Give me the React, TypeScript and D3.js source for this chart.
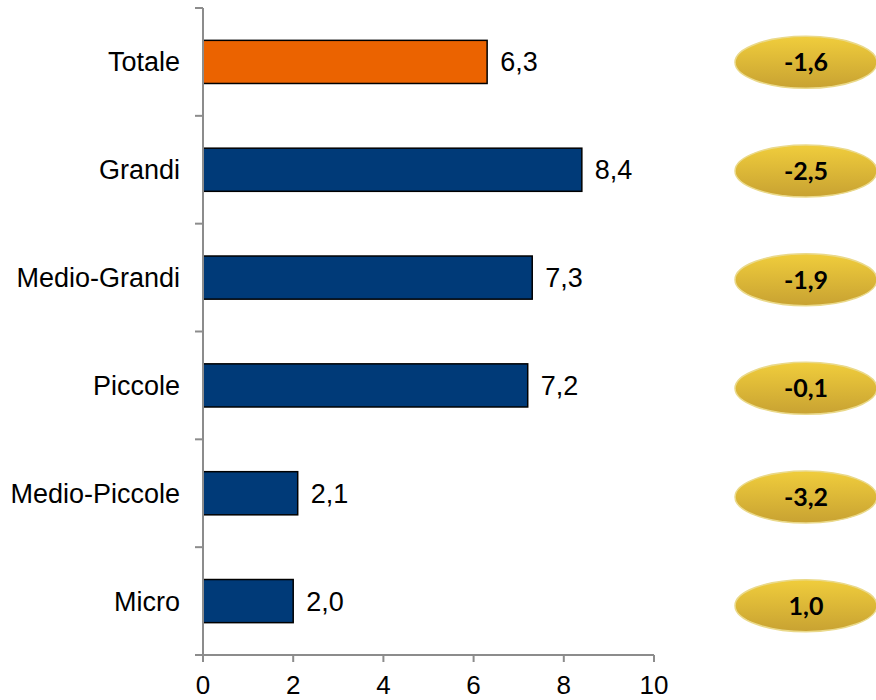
import React, { useEffect, useRef } from 'react';
import * as d3 from 'd3';

const categories = ['Totale', 'Grandi', 'Medio-Grandi', 'Piccole', 'Medio-Piccole', 'Micro'];
const values = [6.3, 8.4, 7.3, 7.2, 2.1, 2.0];
const changes = ['-1,6', '-2,5', '-1,9', '-0,1', '-3,2', '1,0'];
const xTicks = [0, 2, 4, 6, 8, 10];

const App: React.FC = () => {
  const svgRef = useRef<SVGSVGElement>(null);

  useEffect(() => {
    if (!svgRef.current) return;
    const width = 876;
    const height = 700;
    const svg = d3.select(svgRef.current).attr('width', width).attr('height', height);
    svg.selectAll('*').remove();

    const font = '"Liberation Sans", Arial, sans-serif';
    const axisColor = '#8c8c8c';
    const fs = 27;

    const x = d3.scaleLinear().domain([0, 10]).range([203, 654]);
    const y = d3.scaleBand().domain(categories).range([8, 655]).paddingInner(0.6).paddingOuter(0.3);
    const yBand = d3.scaleBand().domain(categories).range([8, 655]);
    const yBadge = d3.scaleBand().domain(categories).range([8, 660]);

    // gradient for the badges
    const defs = svg.append('defs');
    const grad = defs
      .append('linearGradient')
      .attr('id', 'gold')
      .attr('x1', 0)
      .attr('y1', 0)
      .attr('x2', 0)
      .attr('y2', 1);
    grad.append('stop').attr('offset', '0%').attr('stop-color', '#f0cd3c');
    grad.append('stop').attr('offset', '100%').attr('stop-color', '#c8a232');

    // bars
    svg
      .selectAll('.bar')
      .data(categories)
      .enter()
      .append('rect')
      .attr('class', 'bar')
      .attr('x', x(0))
      .attr('y', (d) => y(d) ?? 0)
      .attr('width', (d, i) => x(values[i]) - x(0))
      .attr('height', y.bandwidth())
      .attr('fill', (d, i) => (i === 0 ? '#eb6300' : '#003a78'))
      .attr('stroke', '#000')
      .attr('stroke-width', 1.5);

    // value labels
    svg
      .selectAll('.val')
      .data(categories)
      .enter()
      .append('text')
      .attr('x', (d, i) => x(values[i]) + 13)
      .attr('y', (d) => (y(d) ?? 0) + y.bandwidth() / 2)
      .attr('dy', '0.35em')
      .attr('font-family', font)
      .attr('font-size', fs)
      .attr('fill', '#000')
      .text((d, i) => values[i].toFixed(1).replace('.', ','));

    // y axis
    const yAxis = svg.append('g');
    yAxis
      .append('line')
      .attr('x1', x(0))
      .attr('x2', x(0))
      .attr('y1', 8)
      .attr('y2', 655)
      .attr('stroke', axisColor)
      .attr('stroke-width', 2);
    const bounds = categories.map((c) => yBand(c) ?? 0).concat([655]);
    yAxis
      .selectAll('.ytick')
      .data(bounds)
      .enter()
      .append('line')
      .attr('x1', x(0) - 8)
      .attr('x2', x(0))
      .attr('y1', (d) => d)
      .attr('y2', (d) => d)
      .attr('stroke', axisColor)
      .attr('stroke-width', 2);
    yAxis
      .selectAll('.ylab')
      .data(categories)
      .enter()
      .append('text')
      .attr('x', 180)
      .attr('y', (d) => (yBand(d) ?? 0) + yBand.bandwidth() / 2)
      .attr('dy', '0.35em')
      .attr('text-anchor', 'end')
      .attr('font-family', font)
      .attr('font-size', fs)
      .attr('fill', '#000')
      .text((d) => d);

    // x axis
    const xAxis = svg.append('g');
    xAxis
      .append('line')
      .attr('x1', x(0) - 8)
      .attr('x2', x(10))
      .attr('y1', 655)
      .attr('y2', 655)
      .attr('stroke', axisColor)
      .attr('stroke-width', 2);
    xAxis
      .selectAll('.xtick')
      .data(xTicks)
      .enter()
      .append('line')
      .attr('x1', (d) => x(d))
      .attr('x2', (d) => x(d))
      .attr('y1', 655)
      .attr('y2', 662)
      .attr('stroke', axisColor)
      .attr('stroke-width', 2);
    xAxis
      .selectAll('.xlab')
      .data(xTicks)
      .enter()
      .append('text')
      .attr('x', (d) => x(d))
      .attr('y', 694)
      .attr('text-anchor', 'middle')
      .attr('font-family', font)
      .attr('font-size', 26)
      .attr('fill', '#000')
      .text((d) => String(d));

    // badges on the right
    const badges = svg
      .selectAll('.badge')
      .data(categories)
      .enter()
      .append('g')
      .attr(
        'transform',
        (d) => `translate(806, ${(yBadge(d) ?? 0) + yBadge.bandwidth() / 2})`,
      );
    badges
      .append('ellipse')
      .attr('rx', 71)
      .attr('ry', 26)
      .attr('fill', 'url(#gold)')
      .attr('stroke', '#ead98a')
      .attr('stroke-width', 1.5);
    badges
      .append('text')
      .attr('dy', '0.36em')
      .attr('text-anchor', 'middle')
      .attr('font-family', 'Lato, "Open Sans", sans-serif')
      .attr('font-weight', 'bold')
      .attr('font-size', 25)
      .attr('fill', '#000')
      .text((d, i) => changes[i]);
  }, []);

  return <svg ref={svgRef} style={{ position: 'absolute', left: 0, top: 0 }}></svg>;
};

export default App;
